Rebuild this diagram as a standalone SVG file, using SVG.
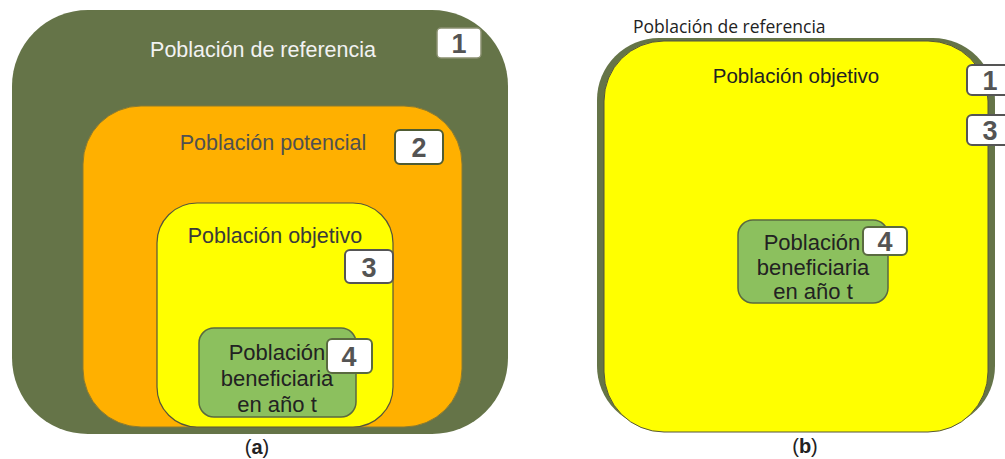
<svg xmlns="http://www.w3.org/2000/svg" width="1005" height="459" viewBox="0 0 1005 459">
<style>
text{font-family:"Liberation Sans",Arial,sans-serif}
.lbl{font-size:21.5px;text-anchor:middle}
.in{font-size:22px;text-anchor:middle;fill:#222}
.badge rect{fill:#ffffff;stroke:#5a6040;stroke-width:2}
.badge text{font-size:27px;font-weight:bold;fill:#545454;text-anchor:middle}
.cap{font-size:20px;text-anchor:middle;fill:#222}
</style>
<rect width="1005" height="459" fill="#ffffff"/>
<g id="panel-a">
<g id="a-referencia">
<rect x="12" y="10" width="496" height="424" rx="76" fill="#657448"/>
<text class="lbl" x="263" y="57" fill="#f2f2f2">Población de referencia</text>
</g>
<g id="a-badge1" class="badge"><rect x="437" y="28" width="44" height="30" rx="4" style="stroke:#8a9070;stroke-width:1.5"/><text x="459" y="53">1</text></g>
<g id="a-potencial">
<rect x="83" y="106" width="379" height="321" rx="58" fill="#ffb000" stroke="#8a7a30" stroke-width="1"/>
<text class="lbl" x="273" y="150" fill="#505050">Población potencial</text>
</g>
<g id="a-badge2" class="badge"><rect x="395" y="130" width="48" height="34" rx="5" style="stroke:#4f5c33"/><text x="419" y="157">2</text></g>
<g id="a-objetivo">
<rect x="157" y="203" width="236" height="224" rx="40" fill="#ffff00" stroke="#55553a" stroke-width="1.2"/>
<text class="lbl" x="275" y="243" fill="#3a3a3a">Población objetivo</text>
</g>
<g id="a-badge3" class="badge"><rect x="345" y="250" width="48" height="33" rx="5" style="stroke:#555"/><text x="369" y="277">3</text></g>
<g id="a-beneficiaria">
<rect x="199" y="328" width="157" height="89" rx="15" fill="#8cc05e" stroke="#5a6a40" stroke-width="1.5"/>
<text class="in" x="277" y="360">Población</text>
<text class="in" x="277" y="386">beneficiaria</text>
<text class="in" x="277" y="412">en año t</text>
</g>
<g id="a-badge4" class="badge"><rect x="327" y="339" width="45" height="34" rx="5" style="stroke:#5a6a40"/><text x="349" y="366">4</text></g>
<text class="cap" x="257" y="454">(<tspan font-weight="bold">a</tspan>)</text>
</g>
<g id="panel-b">
<text x="633" y="33" style="font-family:'Open Sans','Liberation Sans',sans-serif;font-size:17.5px;fill:#222">Población de referencia</text>
<g id="b-referencia">
<rect x="597" y="38" width="398" height="390" rx="62" fill="#657448"/>
</g>
<g id="b-objetivo">
<rect x="604" y="41" width="384" height="391" rx="60" fill="#ffff00" stroke="#55553a" stroke-width="1"/>
<text class="lbl" x="796" y="83" fill="#222" style="font-size:20.5px">Población objetivo</text>
</g>
<g id="b-badge1" class="badge"><rect x="967" y="65" width="46" height="30" rx="5" style="stroke:#555"/><text x="990" y="90">1</text></g>
<g id="b-badge3" class="badge"><rect x="967" y="115" width="46" height="30" rx="5" style="stroke:#555"/><text x="990" y="140">3</text></g>
<g id="b-beneficiaria">
<rect x="738" y="220" width="150" height="83" rx="15" fill="#8cc05e" stroke="#5a6a40" stroke-width="1.5"/>
<text class="in" x="812" y="250">Población</text>
<text class="in" x="813" y="275">beneficiaria</text>
<text class="in" x="813" y="299">en año t</text>
</g>
<g id="b-badge4" class="badge"><rect x="863" y="227" width="44" height="28" rx="5" style="stroke:#5a6a40"/><text x="885" y="251">4</text></g>
<text class="cap" x="805" y="453">(<tspan font-weight="bold">b</tspan>)</text>
</g>
<g id="connectors"/>
</svg>
